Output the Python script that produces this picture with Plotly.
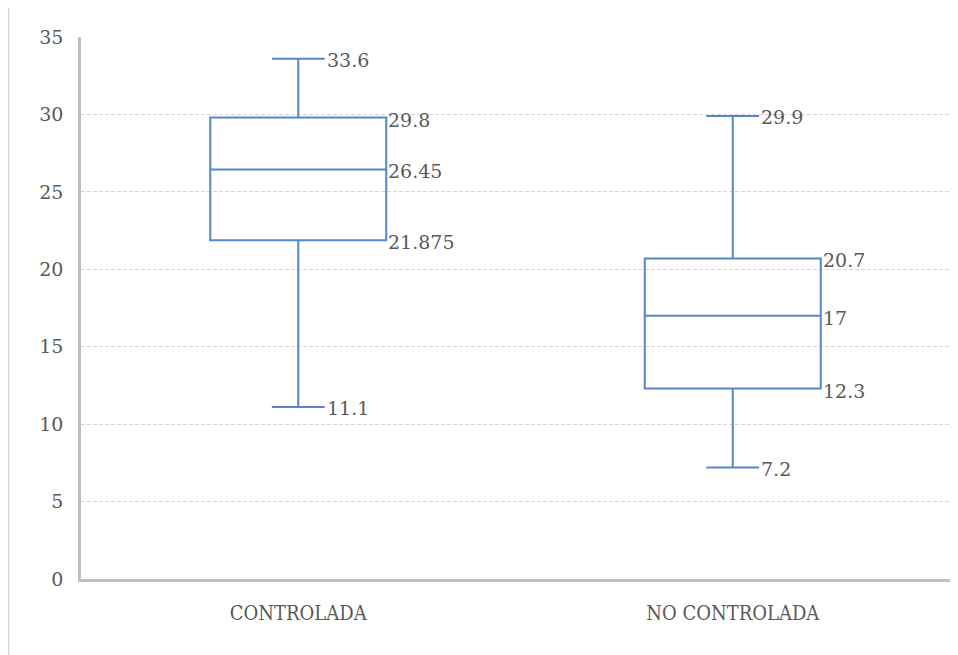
import plotly.graph_objects as go

categories = ["CONTROLADA", "NO CONTROLADA"]
lower = [11.1, 7.2]
q1 = [21.875, 12.3]
median = [26.45, 17]
q3 = [29.8, 20.7]
upper = [33.6, 29.9]
y_ticks = [0, 5, 10, 15, 20, 25, 30, 35]

BLUE = "#5585CC"
TXT = "#595959"
NUMFONT = "DejaVu Serif, serif"
CATFONT = "DejaVu Serif Condensed, DejaVu Serif, serif"
BOXW = 0.405
WW = 0.30

W, H = 950, 647
L, R, T, B = 73, 8, 29, 76
PW, PH = W - L - R, H - T - B

fig = go.Figure()
for i, c in enumerate(categories):
    fig.add_trace(go.Box(
        x=[i], q1=[q1[i]], median=[median[i]], q3=[q3[i]],
        lowerfence=[lower[i]], upperfence=[upper[i]],
        width=BOXW, whiskerwidth=WW,
        line=dict(color=BLUE, width=2), fillcolor="rgba(0,0,0,0)",
        boxpoints=False, hoverinfo="skip", showlegend=False,
    ))
    for v in (q1[i], median[i], q3[i]):
        fig.add_annotation(x=i + BOXW / 2, y=v, text=f"{v:g}", showarrow=False,
                           xanchor="left", yanchor="middle", xshift=0, yshift=-2,
                           font=dict(family=NUMFONT, size=19, color=TXT))
    for v in (lower[i], upper[i]):
        fig.add_annotation(x=i + BOXW * WW / 2, y=v, text=f"{v:g}", showarrow=False,
                           xanchor="left", yanchor="middle", xshift=0, yshift=-1,
                           font=dict(family=NUMFONT, size=19, color=TXT))

fig.add_shape(type="rect", xref="paper", yref="paper",
              x0=(0.75 - L) / PW, x1=1.3, y0=-0.4, y1=(H - T - 0.75) / PH,
              line=dict(color="#D9D9D9", width=1.5), fillcolor="rgba(0,0,0,0)", layer="below")

fig.update_layout(
    width=W, height=H,
    margin=dict(l=L, r=R, t=T, b=B),
    paper_bgcolor="white", plot_bgcolor="white",
    xaxis=dict(range=[-0.5, 1.5], tickmode="array", tickvals=[0, 1], ticktext=categories,
               showgrid=False, zeroline=False, showline=True, linecolor="#BFBFBF", linewidth=2.5,
               ticks="", tickfont=dict(family=CATFONT, size=20, color=TXT), ticklabelstandoff=14),
    yaxis=dict(range=[0, 35], tickvals=y_ticks, showgrid=True, gridcolor="#D6D6D6", griddash="4px,2px",
               gridwidth=1, zeroline=False, showline=True, linecolor="#BFBFBF", linewidth=2.5,
               ticks="", tickfont=dict(family=NUMFONT, size=19, color=TXT), ticklabelstandoff=11),
)

fig.write_html("out.html")
